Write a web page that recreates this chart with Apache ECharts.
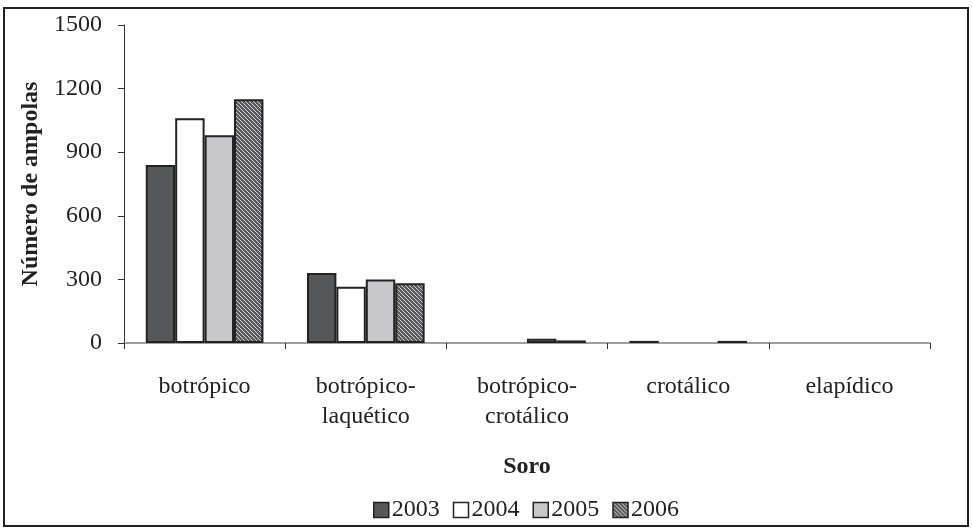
<!DOCTYPE html>
<html>
<head>
<meta charset="utf-8">
<script src="https://cdn.jsdelivr.net/npm/echarts@6/dist/echarts.min.js"></script>
<style>
  html, body { margin: 0; padding: 0; background: #fff; }
  #frame { position: absolute; left: 3px; top: 7px; width: 966px; height: 520px; border: 2px solid #222; box-sizing: border-box; }
  #chart { position: absolute; left: 0; top: 0; width: 972px; height: 530px; }
</style>
</head>
<body>
<div id="frame"></div>
<div id="chart"></div>
<script>
// Soro categories and ampoule counts per year
const categories = ['botrópico', 'botrópico-\nlaquético', 'botrópico-\ncrotálico', 'crotálico', 'elapídico'];
const years = ['2003', '2004', '2005', '2006'];
const v2003 = [840, 330, 0, 10, 0];
const v2004 = [1060, 265, 0, 0, 0];
const v2005 = [980, 300, 20, 0, 0];
const v2006 = [1150, 282, 12, 10, 0];
const yTicks = [0, 300, 600, 900, 1200, 1500];

// diagonal hatch fill for the 2006 series
function hatch() {
  const c = document.createElement('canvas');
  c.width = 4; c.height = 4;
  const g = c.getContext('2d');
  g.fillStyle = '#5a5a5c';
  g.fillRect(0, 0, 4, 4);
  g.fillStyle = '#d4d4d6';
  for (let i = 0; i < 4; i++) g.fillRect(i, i, 1, 1);
  return c;
}

const fills = ['#555759', '#ffffff', '#c8c8ca', { image: hatch(), repeat: 'repeat' }];
const seriesData = [v2003, v2004, v2005, v2006];
const font = 'Liberation Serif';
const fs = 24;

const chart = echarts.init(document.getElementById('chart'), null, { renderer: 'canvas' });
chart.setOption({
  animation: false,
  textStyle: { fontFamily: font },
  grid: { left: 124, right: 42, top: 25, bottom: 187, containLabel: false },
  legend: {
    top: 493,
    left: 368,
    itemWidth: 15,
    itemHeight: 15,
    itemGap: 13,
    icon: 'rect',
    textStyle: { fontFamily: font, fontSize: fs, color: '#222', padding: [0, 0, 0, -2] },
    data: years.map((y, i) => ({ name: y, itemStyle: { color: fills[i], borderColor: '#222', borderWidth: 1.5 } }))
  },
  xAxis: {
    type: 'category',
    data: categories,
    name: 'Soro',
    nameLocation: 'middle',
    nameGap: 112,
    nameTextStyle: { fontFamily: font, fontSize: fs, fontWeight: 'bold', color: '#222' },
    axisLine: { lineStyle: { color: '#808080', width: 1.5 } },
    axisTick: { show: true, length: 6, lineStyle: { color: '#333' } },
    axisLabel: { fontFamily: font, fontSize: fs, color: '#222', margin: 29, lineHeight: 30 }
  },
  yAxis: {
    type: 'value',
    min: 0,
    max: 1500,
    interval: 300,
    name: 'Número de ampolas',
    nameLocation: 'middle',
    nameGap: 80,
    nameTextStyle: { fontFamily: font, fontSize: fs, fontWeight: 'bold', color: '#222' },
    axisLine: { show: true, lineStyle: { color: '#333', width: 1 } },
    axisTick: { show: true, length: 6, lineStyle: { color: '#333' } },
    splitLine: { show: false },
    axisLabel: {
      fontFamily: font, fontSize: fs, color: '#222', margin: 22,
      formatter: v => (yTicks.includes(v) ? String(v) : '')
    }
  },
  series: seriesData.map((d, i) => ({
    name: years[i],
    type: 'bar',
    // zero-count bars are left undrawn (no outline)
    data: d.map(v => ({ value: v, itemStyle: v === 0 ? { borderWidth: 0, opacity: 0 } : {} })),
    barGap: '0%',
    barCategoryGap: '27%',
    itemStyle: { color: fills[i], borderColor: '#222', borderWidth: 2 }
  }))
});
</script>
</body>
</html>
